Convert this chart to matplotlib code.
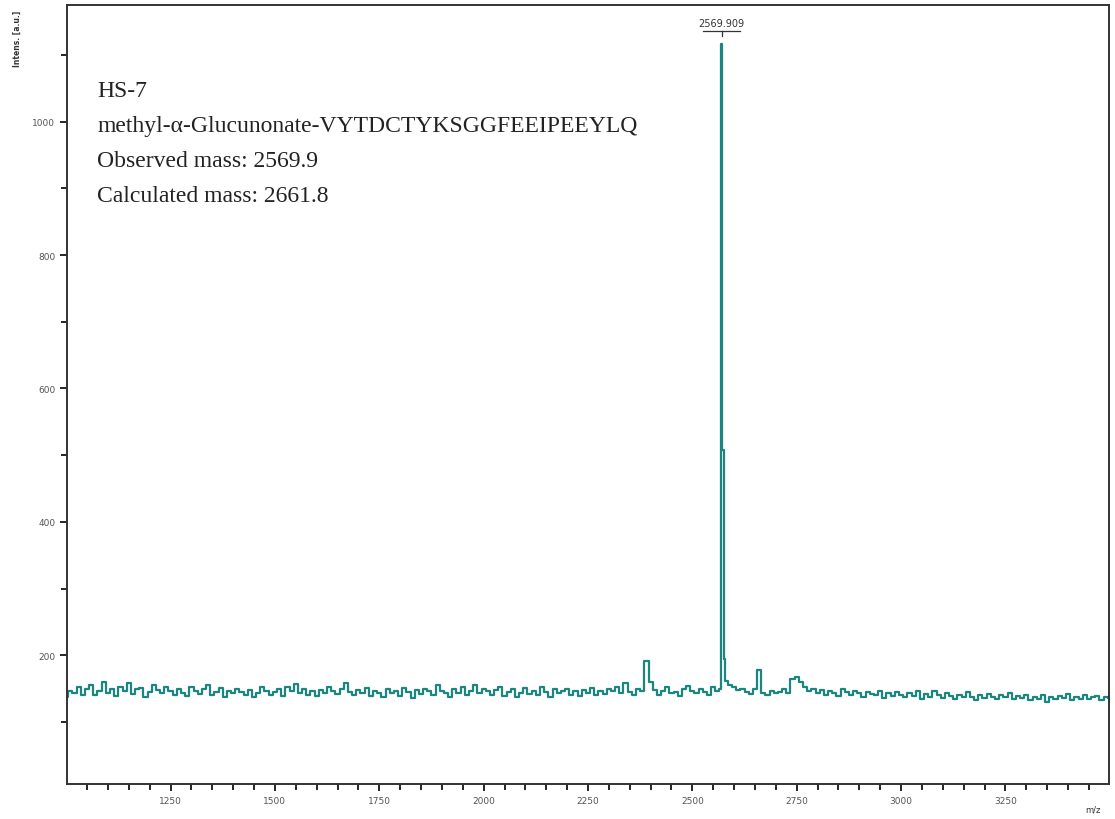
import matplotlib.pyplot as plt
import numpy as np
from matplotlib.ticker import MultipleLocator

# baseline intensities on a 10 m/z grid, 1000 .. 3500
mz_start, mz_step = 1000, 10
baseline = [
    138, 146, 143, 152, 140, 149, 155, 141, 147, 160, 144, 150, 139, 153, 146, 158, 142, 149, 151, 137, 145, 156, 148, 143, 152,
    147, 141, 150, 144, 139, 153, 146, 142, 149, 156, 140, 145, 151, 138, 147, 143, 150, 145, 141, 148, 137, 144, 152, 146, 140,
    145, 149, 139, 152, 147, 157, 143, 150, 141, 146, 139, 148, 144, 153, 147, 142, 150, 158, 145, 141, 148, 143, 151, 139, 146,
    144, 138, 149, 143, 147, 139, 151, 145, 136, 148, 142, 150, 146, 140, 155, 147, 143, 138, 149, 144, 152, 141, 147, 156, 143,
    150, 146, 141, 148, 153, 139, 145, 149, 137, 144, 151, 142, 147, 140, 152, 145, 138, 149, 143, 146, 150, 141, 147, 139, 148,
    144, 151, 140, 147, 142, 149, 146, 152, 143, 158, 145, 141, 150, 147, 191, 160, 148, 140, 146, 152, 143, 145, 139, 150, 154,
    147, 143, 150, 145, 141, 152, 147, 158, 162, 155, 152, 148, 150, 145, 142, 149, 178, 144, 140, 146, 143, 145, 149, 143, 165,
    168, 160, 152, 147, 150, 144, 148, 141, 146, 143, 139, 149, 145, 141, 147, 143, 138, 145, 142, 140, 147, 136, 143, 139, 145,
    141, 137, 144, 139, 147, 135, 142, 138, 146, 140, 136, 143, 139, 134, 141, 137, 145, 138, 133, 140, 136, 142, 138, 135, 141,
    137, 143, 134, 139, 136, 141, 133, 138, 135, 140, 130, 137, 134, 139, 136, 142, 133, 138, 135, 140, 134, 137, 139, 133, 138,
    136,
]
# main peak
peak_mz = [2567.0, 2569.9, 2573.5, 2576.0]
peak_int = [150, 1117, 508, 195]
peak_label = "2569.909"

text_lines = [
    "HS-7",
    "methyl-\u03b1-Glucunonate-VYTDCTYKSGGFEEIPEEYLQ",
    "Observed mass: 2569.9",
    "Calculated mass: 2661.8",
]

grid_mz = mz_start + mz_step * np.arange(len(baseline))
keep = (grid_mz < 2565) | (grid_mz > 2578)
mz = np.concatenate([grid_mz[keep], peak_mz])
inten = np.concatenate([np.array(baseline)[keep], peak_int])
order = np.argsort(mz)
mz, inten = mz[order], inten[order]

fig = plt.figure(figsize=(11.15, 8.2), dpi=100)
ax = fig.add_axes([0.0601, 0.0427, 0.9345, 0.95])
ax.plot(mz, inten, color="#1b8580", linewidth=1.6, drawstyle="steps-mid")

ax.set_xlim(1002, 3498)
ax.set_ylim(7, 1175)
ax.xaxis.set_major_locator(MultipleLocator(250))
ax.xaxis.set_minor_locator(MultipleLocator(50))
ax.yaxis.set_major_locator(MultipleLocator(200))
ax.yaxis.set_minor_locator(MultipleLocator(100))
ax.tick_params(which="major", length=5, width=1.2, labelsize=6.5, labelcolor="#555555", direction="out")
ax.tick_params(which="minor", length=4, width=1.2, direction="out")
for s in ax.spines.values():
    s.set_linewidth(1.4)
    s.set_color("#333333")

# peak label with underline
ax.text(2569.9, 1141, peak_label, ha="center", va="bottom", fontsize=7, color="#333333")
ax.plot([2525, 2614], [1136, 1136], color="#333333", linewidth=0.9, clip_on=False)
ax.plot([2569.9, 2569.9], [1136, 1128], color="#333333", linewidth=0.9, clip_on=False)

for i, line in enumerate(text_lines):
    ax.text(0.029, 0.890 - i * 0.0449, line, transform=ax.transAxes,
            family="Liberation Serif", fontsize=17, color="#222222", va="center")

fig.text(0.016, 0.952, "Intens. [a.u.]", rotation=90, ha="center", va="center",
         fontsize=5.5, fontweight="bold", color="#333333")
fig.text(0.98, 0.012, "m/z", ha="center", va="center", fontsize=6, color="#333333")

fig.savefig("out.png", dpi=100)
